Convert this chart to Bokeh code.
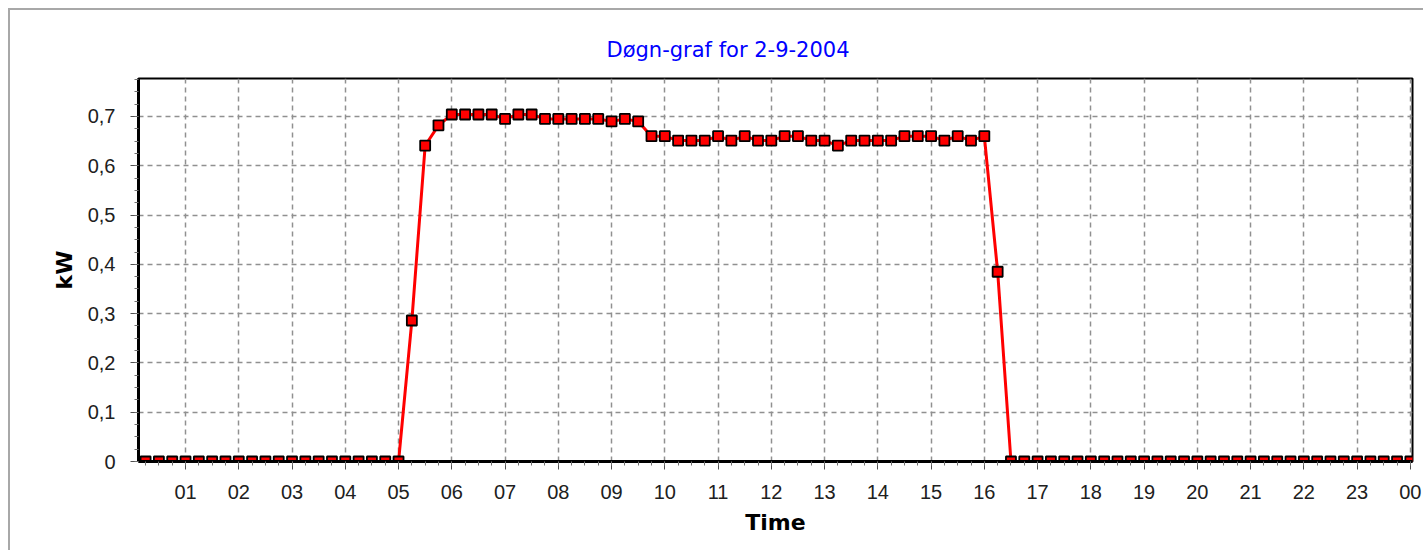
from bokeh.plotting import figure
from bokeh.layouts import column
from bokeh.models import FixedTicker, Range1d, Title
from bokeh.embed import file_html
from bokeh.resources import INLINE

# sample times (hours after midnight, every 15 minutes from 00:15 to 24:00)
hours = [0.25 * (i + 1) for i in range(96)]

kw = [
    # 00:15 - 05:00
    0.0, 0.0, 0.0, 0.0, 0.0, 0.0, 0.0, 0.0, 0.0, 0.0,
    0.0, 0.0, 0.0, 0.0, 0.0, 0.0, 0.0, 0.0, 0.0, 0.0,
    # 05:15 - 16:15
    0.286, 0.641, 0.682,
    0.704, 0.704, 0.704, 0.704,
    0.695, 0.704, 0.704, 0.695,
    0.695, 0.695, 0.695, 0.695,
    0.690, 0.695, 0.690, 0.660,
    0.660, 0.651, 0.651, 0.651,
    0.660, 0.651, 0.660, 0.651,
    0.651, 0.660, 0.660, 0.651,
    0.651, 0.641, 0.651, 0.651,
    0.651, 0.651, 0.660, 0.660,
    0.660, 0.651, 0.660, 0.651,
    0.660, 0.385,
    # 16:30 - 24:00
    0.0, 0.0, 0.0, 0.0, 0.0, 0.0, 0.0, 0.0, 0.0, 0.0,
    0.0, 0.0, 0.0, 0.0, 0.0, 0.0, 0.0, 0.0, 0.0, 0.0,
    0.0, 0.0, 0.0, 0.0, 0.0, 0.0, 0.0, 0.0, 0.0, 0.0,
    0.0,
]

x_ticks = list(range(1, 25))
x_tick_labels = ["01", "02", "03", "04", "05", "06", "07", "08", "09", "10", "11", "12",
                 "13", "14", "15", "16", "17", "18", "19", "20", "21", "22", "23", "00"]
y_ticks = [0.0, 0.1, 0.2, 0.3, 0.4, 0.5, 0.6, 0.7]
y_tick_labels = ["0", "0,1", "0,2", "0,3", "0,4", "0,5", "0,6", "0,7"]

title_text = "Døgn-graf for 2-9-2004"
x_label = "Time"
y_label = "kW"

FONT = "Liberation Sans"
WIDE = "DejaVu Sans"

p = figure(
    frame_width=1272, frame_height=381,
    min_border_left=128, min_border_right=13, min_border_top=68, min_border_bottom=91,
    x_range=Range1d(0.117, 24.04), y_range=Range1d(0, 0.777),
    output_backend="svg", toolbar_location=None,
    styles={"border-top": "2px solid #a8a8a8", "border-left": "2px solid #a8a8a8"},
)

t = Title(text=title_text, align="left", offset=468, standoff=33,
          text_font=WIDE, text_font_size="21px", text_font_style="normal",
          text_color="#0000ff")
p.add_layout(t, "above")

p.outline_line_color = "black"
p.outline_line_width = 2
p.background_fill_color = "white"
p.border_fill_color = "white"

minor_x = [h * 0.25 for h in range(1, 97)]
p.xaxis.ticker = FixedTicker(ticks=x_ticks, minor_ticks=minor_x)
p.xaxis.major_label_overrides = {k: v for k, v in zip(x_ticks, x_tick_labels)}
minor_y = [k * 0.025 for k in range(0, 32)]
p.yaxis.ticker = FixedTicker(ticks=y_ticks, minor_ticks=minor_y)
p.yaxis.major_label_overrides = {k: v for k, v in zip(y_ticks, y_tick_labels)}

for ax in (p.xaxis[0], p.yaxis[0]):
    ax.axis_line_color = "black"
    ax.axis_line_width = 3
    ax.major_tick_line_color = "#505050"
    ax.minor_tick_line_color = "#707070"
    ax.major_tick_in = 0
    ax.minor_tick_in = 0
    ax.major_tick_out = 8
    ax.minor_tick_out = 4
    ax.major_label_text_font = FONT
    ax.major_label_text_font_size = "20px"
    ax.major_label_text_color = "#202020"
    ax.axis_label_text_font = WIDE
    ax.axis_label_text_font_size = "22px"
    ax.axis_label_text_font_style = "bold"
    ax.axis_label_text_color = "black"

p.xaxis.axis_label = x_label
p.yaxis.axis_label = y_label
p.xaxis.major_label_standoff = 15
p.xaxis.axis_label_standoff = 8
p.yaxis.major_label_standoff = 15
p.yaxis.axis_label_standoff = 8

p.xgrid.ticker = FixedTicker(ticks=x_ticks)
p.ygrid.ticker = FixedTicker(ticks=y_ticks)
for g in (p.xgrid[0], p.ygrid[0]):
    g.grid_line_color = "#909090"
    g.grid_line_width = 1.5
    g.grid_line_dash = "5 4"

p.line(hours, kw, line_color="#ff0000", line_width=3)
p.scatter(hours, kw, marker="square", size=10, fill_color="#ff0000",
          line_color="black", line_width=1.8)

layout = column(p, styles={"padding-top": "8px", "padding-left": "8px"})

open("out.html", "w").write(file_html(layout, INLINE))
